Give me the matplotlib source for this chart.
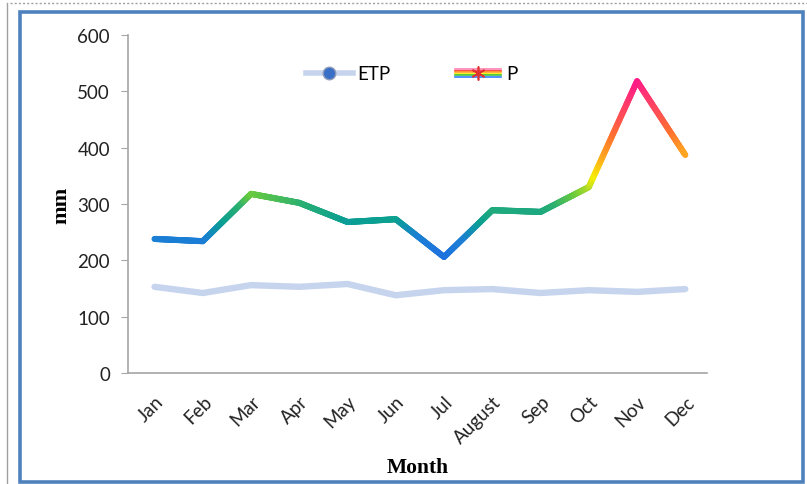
import numpy as np
import matplotlib
matplotlib.use("Agg")
import matplotlib.pyplot as plt
from matplotlib.collections import LineCollection
from matplotlib.colors import LinearSegmentedColormap, Normalize
from matplotlib.lines import Line2D
from matplotlib.patches import Rectangle
from matplotlib.legend_handler import HandlerBase

months = ["Jan", "Feb", "Mar", "Apr", "May", "Jun", "Jul", "August", "Sep", "Oct", "Nov", "Dec"]
etp = [153, 142, 156, 153, 158, 138, 147, 149, 142, 147, 144, 149]
p = [238, 234, 318, 302, 268, 273, 206, 289, 286, 330, 518, 387]
yticks = [0, 100, 200, 300, 400, 500, 600]

plt.rcParams['font.family'] = ['Lato', 'DejaVu Sans']

fig = plt.figure(figsize=(8.07, 4.85), dpi=100)
ax = fig.add_axes([128/807, 1-374/485, 579/807, 338/485])

x = np.arange(len(months))
ax.plot(x, etp, color="#c6d4ee", lw=4.6, solid_capstyle="round", solid_joinstyle="round", zorder=2)

# vertical gradient for P line (colour depends on value)
stops = [(200, "#1f6fe0"), (240, "#1a80d4"), (270, "#0a9f92"), (300, "#2cb070"),
         (318, "#6acb3c"), (335, "#c8e020"), (350, "#f5ef00"), (385, "#ffaa20"),
         (425, "#ff7030"), (470, "#ff4560"), (520, "#ff1a8a")]
lo, hi = stops[0][0], stops[-1][0]
cmap = LinearSegmentedColormap.from_list("pgrad", [((v-lo)/(hi-lo), c) for v, c in stops])
norm = Normalize(lo, hi)
xs, ys = [], []
for i in range(len(x)-1):
    t = np.linspace(0, 1, 60, endpoint=False)
    xs.extend(x[i] + t*(x[i+1]-x[i]))
    ys.extend(p[i] + t*(p[i+1]-p[i]))
xs.append(x[-1]); ys.append(p[-1])
xs = np.array(xs); ys = np.array(ys)
pts = np.array([xs, ys]).T.reshape(-1, 1, 2)
segs = np.concatenate([pts[:-1], pts[1:]], axis=1)
mid = (ys[:-1] + ys[1:]) / 2
lc = LineCollection(segs, colors=cmap(norm(mid)), linewidths=4.4, capstyle="round", joinstyle="round", zorder=3)
ax.add_collection(lc)

ax.set_xlim(-0.55, 11.45)
ax.set_ylim(0, 600)
ax.set_yticks(yticks)
ax.set_xticks(x)
ax.set_xticklabels(months, rotation=45, ha="right", rotation_mode="anchor")
for sp in ["top", "right"]:
    ax.spines[sp].set_visible(False)
for sp in ["left", "bottom"]:
    ax.spines[sp].set_color("#a6a6a6")
    ax.spines[sp].set_linewidth(1.2)
ax.tick_params(axis="y", direction="out", length=5, color="#a6a6a6", labelsize=13.5, pad=8, labelcolor="#222222")
ax.tick_params(axis="x", length=0, labelsize=13.5, pad=14, labelcolor="#222222")
ax.set_ylabel("mm", family="Liberation Serif", fontweight="bold", fontsize=16, labelpad=4)
ax.set_xlabel("Month", family="Liberation Serif", fontweight="bold", fontsize=15.5, labelpad=8)

class RainbowHandler(HandlerBase):
    def create_artists(self, legend, orig_handle, xd, yd, w, h, fontsize, trans):
        cols = ["#ff7fb0", "#ff3030", "#ffa020", "#f0f000", "#40c040", "#3080ff"]
        arts = []
        n = len(cols)
        for k, c in enumerate(cols):
            yy = yd + h/2 + (n/2 - k - 0.5) * 1.1
            ln = Line2D([xd, xd + w], [yy, yy], color=c, lw=1.2, transform=trans)
            arts.append(ln)
        mk = Line2D([xd + w/2], [yd + h/2], marker=(6, 2, 0), markersize=10, color="#e03030",
                    markeredgewidth=1.2, lw=0, transform=trans)
        arts.append(mk)
        return arts

h_etp = Line2D([], [], color="#c6d4ee", lw=4, marker="o", markersize=9,
               markerfacecolor="#3a6fc8", markeredgecolor="#8a9ab8")
h_p = Line2D([], [])
leg = ax.legend([h_etp, h_p], ["ETP", "P"], handler_map={h_p: RainbowHandler()},
                loc="center", bbox_to_anchor=(0.49, 0.885), ncol=2, frameon=False,
                fontsize=13.5, handlelength=2.5, handletextpad=0.25, columnspacing=3.4)

# figure decorations: blue border, dotted top line, left grey line
fig.patches.append(Rectangle((19.5/807, 2.5/485), 783.5/807, 470/485, transform=fig.transFigure,
                             fill=False, edgecolor="#4f81bd", lw=2.6))
fig.lines.append(Line2D([10/807, 1], [1-4/485, 1-4/485], transform=fig.transFigure,
                        color="#a0a0a0", lw=1, linestyle=(0, (1.5, 1.5))))
fig.lines.append(Line2D([7/807, 7/807], [0, 1-4/485], transform=fig.transFigure,
                        color="#a0a0a0", lw=1))

fig.savefig("out.png", dpi=100)
